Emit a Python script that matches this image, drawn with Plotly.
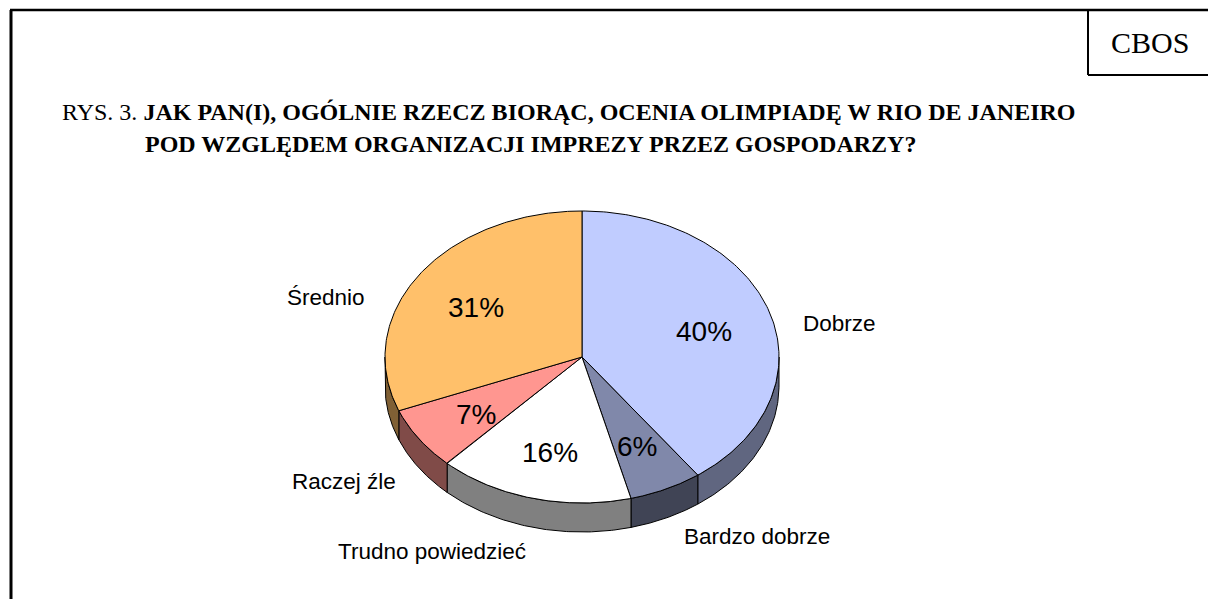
import numpy as np
import plotly.graph_objects as go

# ---- data ----
categories = ["Dobrze", "Bardzo dobrze", "Trudno powiedzieć", "Raczej źle", "Średnio"]
values = [40, 6, 16, 7, 31]
pct_labels = ["40%", "6%", "16%", "7%", "31%"]

# ---- styles ----
top_colors = ["#C0CCFF", "#8088AA", "#FFFFFF", "#FF9690", "#FFC06A"]
side_colors = ["#606680", "#404455", "#808080", "#804B48", "#806035"]
label_pos = [(839, 323), (757, 536), (432, 551), (344, 481), (326, 297)]

W, H = 1208, 599
CX, CY, RX, RY, DEPTH = 582, 357, 197, 146, 29

def pt(theta_deg, dy=0.0, f=1.0):
    t = np.radians(theta_deg)
    return CX + RX * f * np.sin(t), CY - RY * f * np.cos(t) + dy

fig = go.Figure()

total = sum(values)
bounds = np.concatenate([[0], np.cumsum(values)]) / total * 360.0

# side walls (front half only: 90..270 deg)
for i in range(len(values)):
    a, b = max(bounds[i], 90), min(bounds[i + 1], 270)
    if b <= a:
        continue
    th = np.linspace(a, b, 80)
    xt, yt = pt(th)
    xb, yb = pt(th[::-1], dy=DEPTH)
    xs = np.concatenate([xt, xb, [xt[0]]])
    ys = np.concatenate([yt, yb, [yt[0]]])
    fig.add_trace(go.Scatter(x=xs, y=ys, mode="lines", fill="toself",
                             fillcolor=side_colors[i], line=dict(color="black", width=1),
                             hoverinfo="skip", showlegend=False))

# top faces
for i in range(len(values)):
    th = np.linspace(bounds[i], bounds[i + 1], 160)
    xa, ya = pt(th)
    xs = np.concatenate([[CX], xa, [CX]])
    ys = np.concatenate([[CY], ya, [CY]])
    fig.add_trace(go.Scatter(x=xs, y=ys, mode="lines", fill="toself",
                             fillcolor=top_colors[i], line=dict(color="black", width=1),
                             name=categories[i], text=pct_labels[i], hoverinfo="name+text",
                             showlegend=False))

annotations = []
# percentage labels
for i in range(len(values)):
    mid = (bounds[i] + bounds[i + 1]) / 2
    x, y = pt(mid, f=0.65)
    annotations.append(dict(x=x, y=y + 4, xref="x", yref="y", text=pct_labels[i],
                            showarrow=False, xanchor="center", yanchor="middle",
                            font=dict(family="Liberation Sans, Arial", size=28, color="black")))
# category labels
for i, (lx, ly) in enumerate(label_pos):
    annotations.append(dict(x=lx, y=ly, xref="x", yref="y", text=categories[i],
                            showarrow=False, xanchor="center", yanchor="middle",
                            font=dict(family="Liberation Sans, Arial", size=22.5, color="black")))

# title
annotations.append(dict(x=60, y=112, xref="x", yref="y",
                        text="RYS. 3. <b>JAK PAN(I), OGÓLNIE RZECZ BIORĄC, OCENIA OLIMPIADĘ W RIO DE JANEIRO</b>",
                        showarrow=False, xanchor="left", yanchor="middle",
                        font=dict(family="Liberation Serif, Times New Roman", size=24, color="black")))
annotations.append(dict(x=143, y=144, xref="x", yref="y",
                        text="<b>POD WZGLĘDEM ORGANIZACJI IMPREZY PRZEZ GOSPODARZY?</b>",
                        showarrow=False, xanchor="left", yanchor="middle",
                        font=dict(family="Liberation Serif, Times New Roman", size=24, color="black")))
# CBOS box text
annotations.append(dict(x=1150, y=42, xref="x", yref="y", text="CBOS",
                        showarrow=False, xanchor="center", yanchor="middle",
                        font=dict(family="Liberation Serif, Times New Roman", size=30, color="black")))

shapes = [
    dict(type="line", xref="x", yref="y", x0=11, y0=10, x1=11, y1=H, line=dict(color="black", width=3)),
    dict(type="line", xref="x", yref="y", x0=10, y0=10, x1=W, y1=10, line=dict(color="black", width=2.5)),
    dict(type="line", xref="x", yref="y", x0=1088, y0=10, x1=1088, y1=75, line=dict(color="black", width=2)),
    dict(type="line", xref="x", yref="y", x0=1088, y0=75, x1=W, y1=75, line=dict(color="black", width=2)),
]

fig.update_layout(
    width=W, height=H, margin=dict(l=0, r=0, t=0, b=0),
    paper_bgcolor="white", plot_bgcolor="white",
    xaxis=dict(range=[0, W], visible=False, fixedrange=True),
    yaxis=dict(range=[H, 0], visible=False, fixedrange=True),
    annotations=annotations, shapes=shapes,
)

fig.write_html("out.html", config={"displayModeBar": False},
               post_script="document.body.style.margin='0';document.body.style.overflow='hidden';")
